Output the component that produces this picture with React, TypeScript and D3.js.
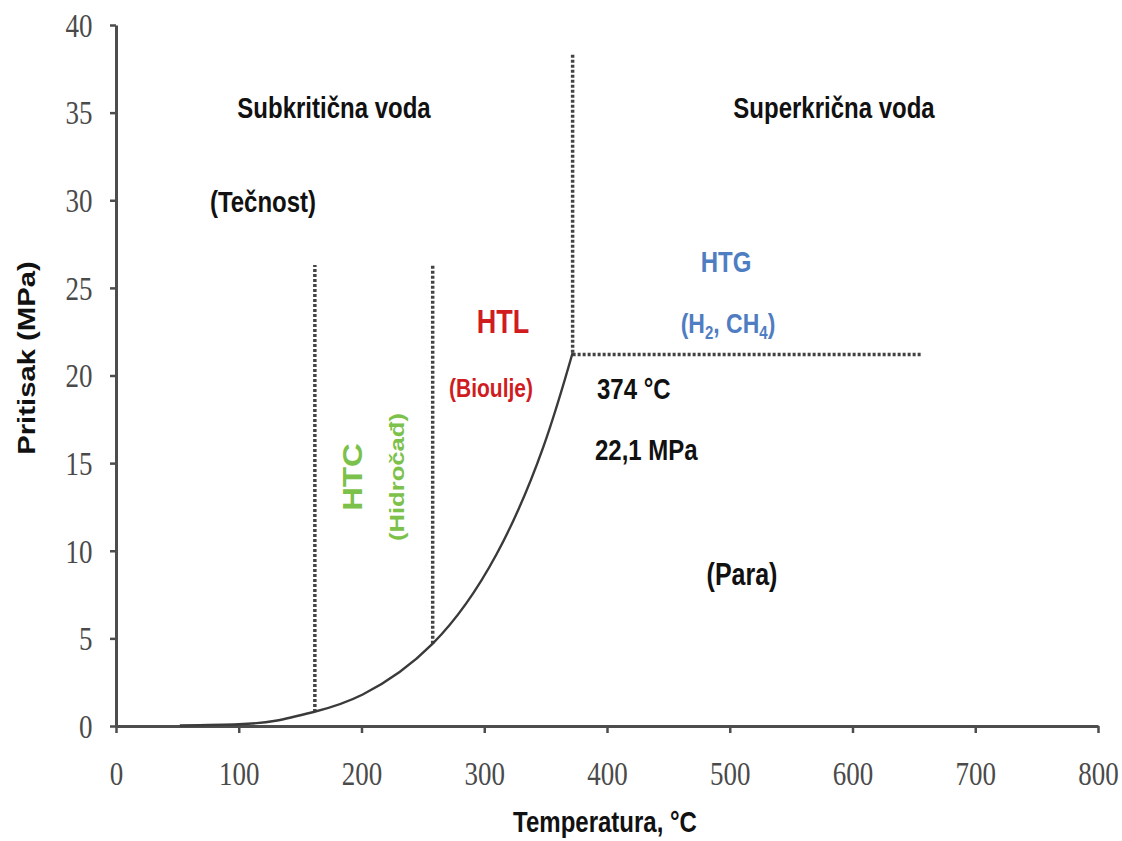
import React, { useEffect, useRef } from 'react'
import * as d3 from 'd3'

// saturation curve (°C, MPa)
const curveTemps = [52, 100, 130, 161, 201, 258, 310, 348, 372]
const curvePressures = [0.03, 0.1, 0.3, 0.8, 1.8, 4.7, 9.8, 15.9, 21.3]

// critical point as drawn, and where the dotted boundaries end
const critTemp = 372
const critPressure = 21.3
const critTop = 38.4
const gasEndTemp = 657

// HTC band boundaries
const htcTemps = [162, 258]
const htcTop = 26.3
const htcBottoms = [0.8, 4.7]

const xTicks = [0, 100, 200, 300, 400, 500, 600, 700, 800]
const yTicks = [0, 5, 10, 15, 20, 25, 30, 35, 40]

const W = 1122
const H = 841
const SY = 1.22 // the source image is stretched vertically
const SANS = '"Liberation Sans", Arial, sans-serif'
const SERIF = '"Liberation Serif", "Times New Roman", serif'
const RED = '#d01c1f'
const GREEN = '#7cc14a'
const BLUE = '#4f7dc2'

export default function App() {
  const ref = useRef<SVGSVGElement>(null)

  useEffect(() => {
    const svg = d3.select(ref.current)
    svg.selectAll('*').remove()

    const x = d3.scaleLinear().domain([0, 800]).range([116, 1098])
    const y = d3.scaleLinear().domain([0, 40]).range([726, 25])

    // axes
    const xg = svg.append('g').attr('transform', `translate(0,${y(0)})`)
    xg.call(d3.axisBottom(x).tickValues(xTicks).tickSize(7).tickSizeOuter(0))
    const yg = svg.append('g').attr('transform', `translate(${x(0)},0)`)
    yg.call(d3.axisLeft(y).tickValues(yTicks).tickSize(6).tickSizeOuter(0))

    for (const g of [xg, yg]) {
      g.select('.domain').attr('stroke', '#4d4d4d').attr('stroke-width', 3)
      g.selectAll('.tick line').attr('stroke', '#4d4d4d').attr('stroke-width', 2.5)
      g.selectAll('.tick text')
        .attr('fill', '#4a4a4a')
        .attr('font-family', SERIF)
        .attr('font-size', 27)
        .attr('x', null)
        .attr('y', null)
        .attr('dy', null)
    }
    xg.selectAll('.tick text')
      .attr('text-anchor', 'middle')
      .attr('transform', `translate(0,59) scale(1,${SY + 0.05})`)
    yg.selectAll('.tick text')
      .attr('text-anchor', 'end')
      .attr('transform', `translate(-23.5,11.3) scale(1,${SY + 0.05})`)

    // dotted boundaries
    const dotted = (pts: [number, number][]) =>
      svg
        .append('path')
        .attr('d', d3.line()(pts.map(([t, p]) => [x(t), y(p)] as [number, number])))
        .attr('fill', 'none')
        .attr('stroke', '#444')
        .attr('stroke-width', 3.5)
        .attr('stroke-dasharray', '3 2')

    htcTemps.forEach((t, i) => dotted([[t, htcBottoms[i]], [t, htcTop]]))
    dotted([[critTemp, critPressure], [critTemp, critTop]])
    dotted([[critTemp, critPressure - 0.1], [gasEndTemp, critPressure - 0.1]])

    // vapour pressure curve
    const line = d3
      .line<number>()
      .x((_, i) => x(curveTemps[i]))
      .y(d => y(d))
      .curve(d3.curveNatural)
    svg
      .append('path')
      .attr('d', line(curvePressures))
      .attr('fill', 'none')
      .attr('stroke', '#3a3a3a')
      .attr('stroke-width', 2.4)

    // labels
    const label = (
      px: number,
      py: number,
      str: string,
      size: number,
      color: string,
      anchor = 'middle',
      rotate = false
    ) =>
      svg
        .append('text')
        .attr('transform', `translate(${px},${py}) scale(1,${SY})${rotate ? ' rotate(-90)' : ''}`)
        .attr('text-anchor', anchor)
        .attr('font-family', SANS)
        .attr('font-weight', 'bold')
        .attr('font-size', size)
        .attr('fill', color)
        .text(str)

    label(334, 118, 'Subkritična voda', 24, '#111')
    label(263, 212, '(Tečnost)', 24, '#111')
    label(834, 118, 'Superkrična voda', 24, '#111')
    label(726, 272, 'HTG', 24, BLUE)
    label(503, 333, 'HTL', 27, RED)
    label(491, 397, '(Bioulje)', 21, RED)
    label(597, 399, '374 °C', 24, '#111', 'start')
    label(595, 460, '22,1 MPa', 24, '#111', 'start')
    label(742, 585, '(Para)', 25, '#111')
    label(362, 477, 'HTC', 27, GREEN, 'middle', true)
    label(404, 477, '(Hidročađ)', 21, GREEN, 'middle', true)
    label(35, 358, 'Pritisak (MPa)', 24, '#111', 'middle', true)
    label(605, 832, 'Temperatura, °C', 24, '#111')

    // (H2, CH4) with subscripts
    const gas = label(728, 333, '', 23, BLUE)
    gas.append('tspan').text('(H')
    gas.append('tspan').attr('font-size', 15).attr('dy', 5).text('2')
    gas.append('tspan').attr('dy', -5).text(', CH')
    gas.append('tspan').attr('font-size', 15).attr('dy', 5).text('4')
    gas.append('tspan').attr('dy', -5).text(')')
  }, [])

  return (
    <svg
      ref={ref}
      width={W}
      height={H}
      style={{ position: 'absolute', left: 0, top: 0, background: '#fff' }}
    />
  )
}
